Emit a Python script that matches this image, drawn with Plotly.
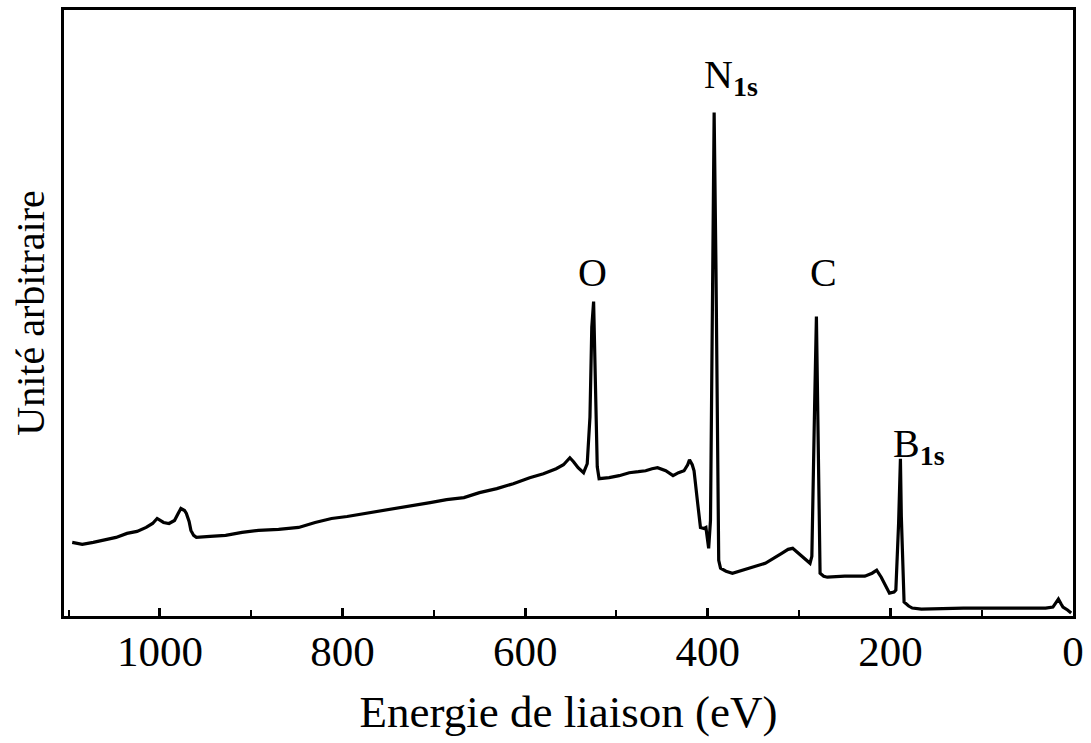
import plotly.graph_objects as go

# XPS survey spectrum of boron nitride: binding energy (eV) vs. counts (arbitrary units)
energy_ev = [
    1096, 1085, 1073, 1060, 1048, 1036, 1025, 1015, 1008, 1003, 996, 990, 984, 980, 977,
    973, 971, 968, 966, 963, 960, 945, 928, 910, 892, 870, 848, 830, 812, 795, 775, 758,
    740, 722, 704, 686, 667, 650, 631, 613, 595, 580, 566, 558, 551, 547, 542, 536, 532,
    529, 527, 525, 523, 521, 519, 508, 497, 486, 476, 468, 461, 455, 446, 438, 432, 426,
    422, 420, 417, 415, 411, 408, 404, 402, 399, 397, 395, 393, 391, 389, 388, 386, 380,
    373, 355, 337, 319, 312, 307, 302, 296, 288, 286, 285, 283, 281, 279, 277, 273, 269,
    250, 228, 220, 215, 210, 205, 201, 196, 194, 191, 190, 189, 188, 187, 185, 180, 176,
    166, 120, 60, 30, 22, 19, 16, 13, 11, 6, 2,
]
intensity = [
    74, 72, 74, 77, 79, 83, 85, 89, 93, 98, 94, 93, 96, 103, 108,
    106, 103, 95, 86, 81, 79, 80, 81, 84, 86, 87, 89, 94, 98, 100, 103, 106,
    108, 111, 114, 117, 119, 124, 128, 133, 139, 143, 148, 152, 159, 155, 149, 144, 153,
    200, 290, 316, 240, 150, 138, 139, 141, 144, 145, 146, 148, 149, 146, 141, 144, 146,
    152, 157, 152, 146, 113, 89, 88, 89, 68, 96, 300, 506, 350, 120, 56, 48, 45,
    43, 48, 53, 63, 67, 68, 64, 59, 53, 60, 120, 210, 301, 180, 43, 40, 39,
    40, 40, 43, 46, 39, 30, 23, 24, 26, 93, 140, 158, 100, 60, 14, 10, 8,
    7, 8, 8, 8, 9, 13, 17, 12, 9, 6, 3,
]

# Peak labels: (text, energy, intensity)
peak_labels = ["O", "N<sub><b>1s</b></sub>", "C", "B<sub><b>1s</b></sub>"]
label_energy = [526, 374, 273, 169]
label_intensity = [345, 542, 345, 171]

major_ticks = [1000, 800, 600, 400, 200, 0]

FONT = "Liberation Serif"

fig = go.Figure()
fig.add_trace(go.Scatter(
    x=energy_ev, y=intensity, mode="lines",
    line=dict(color="black", width=3.2),
    showlegend=False, hoverinfo="skip",
))

for txt, xe, yi in zip(peak_labels, label_energy, label_intensity):
    fig.add_annotation(
        x=xe, y=yi, text=txt, showarrow=False,
        font=dict(family=FONT, size=40, color="black"),
        xanchor="center", yanchor="middle",
    )

# vertical axis title, centred alongside the left frame line
fig.add_annotation(
    xref="paper", yref="paper", x=-0.034, y=0.5,
    text="Unité arbitraire", textangle=-90, showarrow=False,
    font=dict(family=FONT, size=40, color="black"),
    xanchor="center", yanchor="middle",
)

fig.update_layout(
    width=1091, height=743,
    margin=dict(l=64, r=11, t=7, b=127),
    paper_bgcolor="white", plot_bgcolor="white",
    font=dict(family=FONT, color="black"),
)
fig.update_xaxes(
    range=[1105, 0],
    tickvals=major_ticks, ticktext=[str(t) for t in major_ticks],
    ticks="inside", ticklen=8, tickwidth=2.5, tickcolor="black",
    minor=dict(dtick=100, tick0=0, ticks="inside", ticklen=6, tickwidth=2, tickcolor="black", showgrid=False),
    showline=True, linecolor="black", linewidth=3, mirror=True,
    showgrid=False, zeroline=False,
    tickfont=dict(family=FONT, size=43, color="black"),
    ticklabelstandoff=-5,
    title=dict(text="Energie de liaison (eV)", font=dict(family=FONT, size=45, color="black"), standoff=22),
)
fig.update_yaxes(
    range=[0, 609],
    showticklabels=False, ticks="",
    showline=True, linecolor="black", linewidth=3, mirror=True,
    showgrid=False, zeroline=False,
)

fig.write_html("out.html")
